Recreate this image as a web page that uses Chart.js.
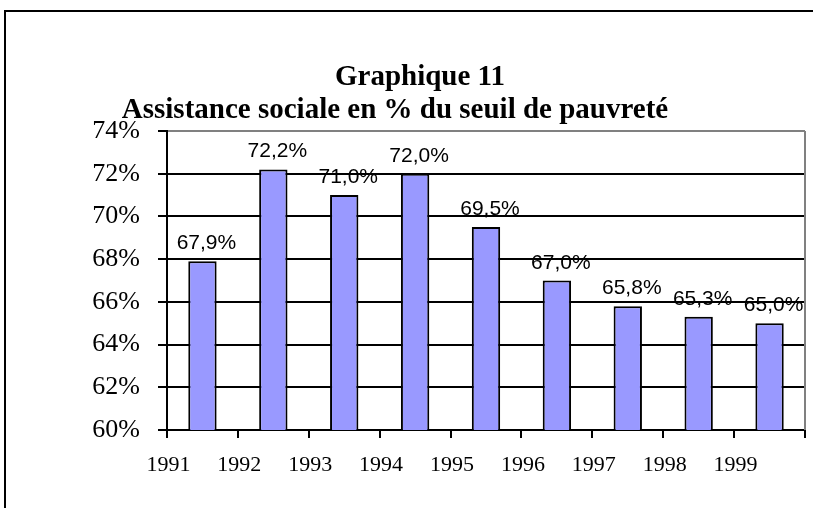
<!DOCTYPE html>
<html>
<head>
<meta charset="utf-8">
<script src="https://cdn.jsdelivr.net/npm/chart.js@4/dist/chart.umd.min.js"></script>
<style>
  html, body { margin: 0; padding: 0; background: #fff; overflow: hidden; }
  #wrap { position: relative; width: 813px; height: 508px; }
  #frame { position: absolute; left: 4px; top: 10px; width: 900px; height: 600px; border: 2px solid #000; }
  canvas { position: absolute; left: 0; top: 0; }
</style>
</head>
<body>
<div id="wrap">
  <div id="frame"></div>
  <canvas id="chart" width="813" height="508"></canvas>
</div>
<script>
// --- data ---
const years = ['1991', '1992', '1993', '1994', '1995', '1996', '1997', '1998', '1999'];
const ratios = [67.9, 72.2, 71.0, 72.0, 69.5, 67.0, 65.8, 65.3, 65.0];
const yTicks = [60, 62, 64, 66, 68, 70, 72, 74];
const titleLines = ['Graphique 11', 'Assistance sociale en % du seuil de pauvreté'];

// title text drawn at the Excel positions
const titlePlugin = {
  id: 'excelTitle',
  afterDraw(chart) {
    const ctx = chart.ctx;
    ctx.save();
    ctx.fillStyle = '#000';
    ctx.font = 'bold 29px "Liberation Serif", "Times New Roman", serif';
    ctx.textAlign = 'center';
    ctx.textBaseline = 'alphabetic';
    ctx.fillText(titleLines[0], 420, 85);
    ctx.fillText(titleLines[1], 395, 118);
    ctx.restore();
  }
};

// value labels above each bar
const valueLabels = {
  id: 'valueLabels',
  afterDatasetsDraw(chart) {
    const ctx = chart.ctx;
    const meta = chart.getDatasetMeta(0);
    ctx.save();
    ctx.fillStyle = '#000';
    ctx.font = '21px "Liberation Sans", Arial, sans-serif';
    ctx.textAlign = 'center';
    ctx.textBaseline = 'alphabetic';
    meta.data.forEach((bar, i) => {
      const txt = ratios[i].toFixed(1).replace('.', ',') + '%';
      ctx.fillText(txt, bar.x + 4, bar.y - 12);
    });
    ctx.restore();
  }
};

// gray right border of the plot area
const plotBorder = {
  id: 'plotBorder',
  beforeDatasetsDraw(chart) {
    const a = chart.chartArea;
    const ctx = chart.ctx;
    ctx.save();
    ctx.strokeStyle = '#808080';
    ctx.lineWidth = 2;
    ctx.beginPath();
    ctx.moveTo(a.right, a.top);
    ctx.lineTo(a.right, a.bottom);
    ctx.stroke();
    ctx.restore();
  }
};

new Chart(document.getElementById('chart'), {
  type: 'bar',
  data: {
    labels: years,
    datasets: [{
      data: ratios,
      backgroundColor: '#9999FF',
      borderColor: '#000',
      borderWidth: 2,
      borderSkipped: false,
      barPercentage: 0.4,
      categoryPercentage: 1.0
    }]
  },
  options: {
    responsive: false,
    animation: false,
    events: [],
    layout: { padding: { top: 131, right: 8, left: 0, bottom: 0 } },
    plugins: {
      legend: { display: false },
      title: { display: false },
      tooltip: { enabled: false }
    },
    scales: {
      x: {
        offset: true,
        grid: {
          offset: true,
          drawOnChartArea: false,
          tickColor: '#000',
          tickLength: 8,
          lineWidth: 2
        },
        border: { color: '#000', width: 2 },
        ticks: {
          color: '#000',
          font: { family: '"Liberation Serif", "Times New Roman", serif', size: 22 },
          padding: 14,
          labelOffset: -34,
          maxRotation: 0,
          autoSkip: false
        },
        afterFit(scale) { scale.height = 78; }
      },
      y: {
        min: yTicks[0],
        max: yTicks[yTicks.length - 1],
        afterBuildTicks(scale) { scale.ticks = yTicks.map(v => ({ value: v })); },
        grid: {
          color: ctx => (ctx.tick && ctx.tick.value === 74 ? '#808080' : '#000'),
          tickColor: '#000',
          tickLength: 9,
          lineWidth: 2
        },
        border: { color: '#000', width: 2 },
        ticks: {
          color: '#000',
          font: { family: '"Liberation Serif", "Times New Roman", serif', size: 26 },
          padding: 18,
          callback: v => v + '%'
        },
        afterFit(scale) { scale.width = 167; }
      }
    }
  },
  plugins: [titlePlugin, valueLabels, plotBorder]
});
</script>
</body>
</html>
